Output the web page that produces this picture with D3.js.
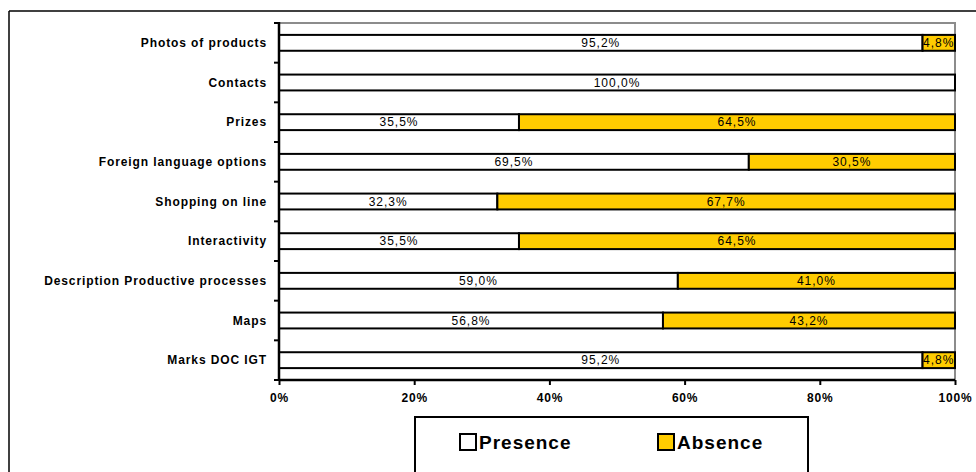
<!DOCTYPE html>
<html>
<head>
<meta charset="utf-8">
<script src="https://cdn.jsdelivr.net/npm/d3@7"></script>
<style>
  html, body { margin: 0; padding: 0; background: #fff; overflow: hidden; }
  svg { display: block; font-family: "Liberation Sans", Arial, sans-serif; }
</style>
</head>
<body>
<svg id="chart" width="976" height="472"></svg>
<script>
// Website features: share of sites where each feature is present / absent
const categories = [
  "Photos of products",
  "Contacts",
  "Prizes",
  "Foreign language options",
  "Shopping on line",
  "Interactivity",
  "Description Productive processes",
  "Maps",
  "Marks DOC IGT"
];
const presence = [95.2, 100.0, 35.5, 69.5, 32.3, 35.5, 59.0, 56.8, 95.2];
const absence  = [4.8, 0.0, 64.5, 30.5, 67.7, 64.5, 41.0, 43.2, 4.8];
const seriesNames = ["Presence", "Absence"];
const seriesColors = ["#ffffff", "#ffcc00"];
const xTicks = [0, 20, 40, 60, 80, 100];

const svg = d3.select("#chart");
const plotLeft = 279, plotRight = 955, plotTop = 23, plotBottom = 380;

const fmt = v => d3.format(".1f")(v).replace(".", ",") + "%";

// Outer chart frame: top and left edges only (the rest runs past the page)
svg.append("line")
  .attr("x1", 9).attr("x2", 976).attr("y1", 11).attr("y2", 11)
  .attr("stroke", "#000").attr("stroke-width", 1.5);
svg.append("line")
  .attr("x1", 9).attr("x2", 9).attr("y1", 11).attr("y2", 472)
  .attr("stroke", "#000").attr("stroke-width", 1.5);

const x = d3.scaleLinear().domain([0, 100]).range([plotLeft, plotRight]);
const y = d3.scaleBand().domain(categories).range([plotTop, plotBottom]).paddingInner(0.6).paddingOuter(0.3);

// Plot-area border (top & right in gray)
svg.append("path")
  .attr("d", `M${plotLeft},${plotTop}H${plotRight}V${plotBottom}`)
  .attr("fill", "none").attr("stroke", "#8c8c8c").attr("stroke-width", 2);

// Stack the two series
const rows = categories.map((c, i) => ({ cat: c, Presence: presence[i], Absence: absence[i] }));
const stacked = d3.stack().keys(seriesNames)(rows);

const layer = svg.selectAll("g.layer").data(stacked).join("g")
  .attr("class", "layer")
  .attr("fill", (d, i) => seriesColors[i]);

layer.selectAll("rect").data(d => d.filter(p => p[1] - p[0] > 0)).join("rect")
  .attr("x", d => x(d[0]))
  .attr("y", d => y(d.data.cat))
  .attr("width", d => x(d[1]) - x(d[0]))
  .attr("height", y.bandwidth())
  .attr("stroke", "#000").attr("stroke-width", 2);

// Value labels
layer.selectAll("text").data(d => d.filter(p => p[1] - p[0] > 0)).join("text")
  .attr("x", d => {
    const mid = x((d[0] + d[1]) / 2);
    return Math.min(mid, plotRight - 15);
  })
  .attr("y", d => y(d.data.cat) + y.bandwidth() / 2)
  .attr("dy", "0.36em")
  .attr("text-anchor", "middle")
  .attr("fill", "#000")
  .attr("font-size", 12)
  .attr("letter-spacing", "1px")
  .text(d => fmt(d[1] - d[0]));

// Category axis
const step = y.step();
const yAxisG = svg.append("g");
yAxisG.append("line")
  .attr("x1", plotLeft).attr("x2", plotLeft).attr("y1", plotTop - 1).attr("y2", plotBottom + 1)
  .attr("stroke", "#000").attr("stroke-width", 2.5);
d3.range(categories.length + 1).forEach(i => {
  yAxisG.append("line")
    .attr("x1", plotLeft - 5).attr("x2", plotLeft)
    .attr("y1", plotTop + i * step).attr("y2", plotTop + i * step)
    .attr("stroke", "#000").attr("stroke-width", 2);
});
yAxisG.selectAll("text").data(categories).join("text")
  .attr("x", plotLeft - 12)
  .attr("y", d => y(d) + y.bandwidth() / 2)
  .attr("dy", "0.36em")
  .attr("text-anchor", "end")
  .attr("font-size", 12).attr("font-weight", "bold")
  .attr("letter-spacing", "0.9px")
  .text(d => d);

// Value axis
const xAxis = d3.axisBottom(x).tickValues(xTicks).tickSize(5).tickFormat(d => d + "%");
const xg = svg.append("g").attr("transform", `translate(0,${plotBottom})`).call(xAxis);
xg.select(".domain").attr("stroke", "#000").attr("stroke-width", 2.5).attr("d", `M${plotLeft},0H${plotRight}`);
xg.selectAll(".tick line").attr("stroke", "#000").attr("stroke-width", 2);
xg.selectAll(".tick text")
  .attr("y", 13)
  .attr("font-size", 12).attr("font-weight", "bold")
  .attr("letter-spacing", "0.8px")
  .attr("font-family", "Liberation Sans, Arial, sans-serif")
  .attr("fill", "#000");

// Legend
const lg = svg.append("g");
lg.append("rect")
  .attr("x", 415).attr("y", 417).attr("width", 393).attr("height", 60)
  .attr("fill", "#fff").attr("stroke", "#000").attr("stroke-width", 2);
const legendX = [460, 658];
seriesNames.forEach((name, i) => {
  lg.append("rect")
    .attr("x", legendX[i]).attr("y", 434).attr("width", 16).attr("height", 16)
    .attr("fill", seriesColors[i]).attr("stroke", "#000").attr("stroke-width", 2);
  lg.append("text")
    .attr("x", legendX[i] + 19).attr("y", 449)
    .attr("font-size", 19).attr("font-weight", "bold")
    .attr("letter-spacing", "1px")
    .text(name);
});
</script>
</body>
</html>
